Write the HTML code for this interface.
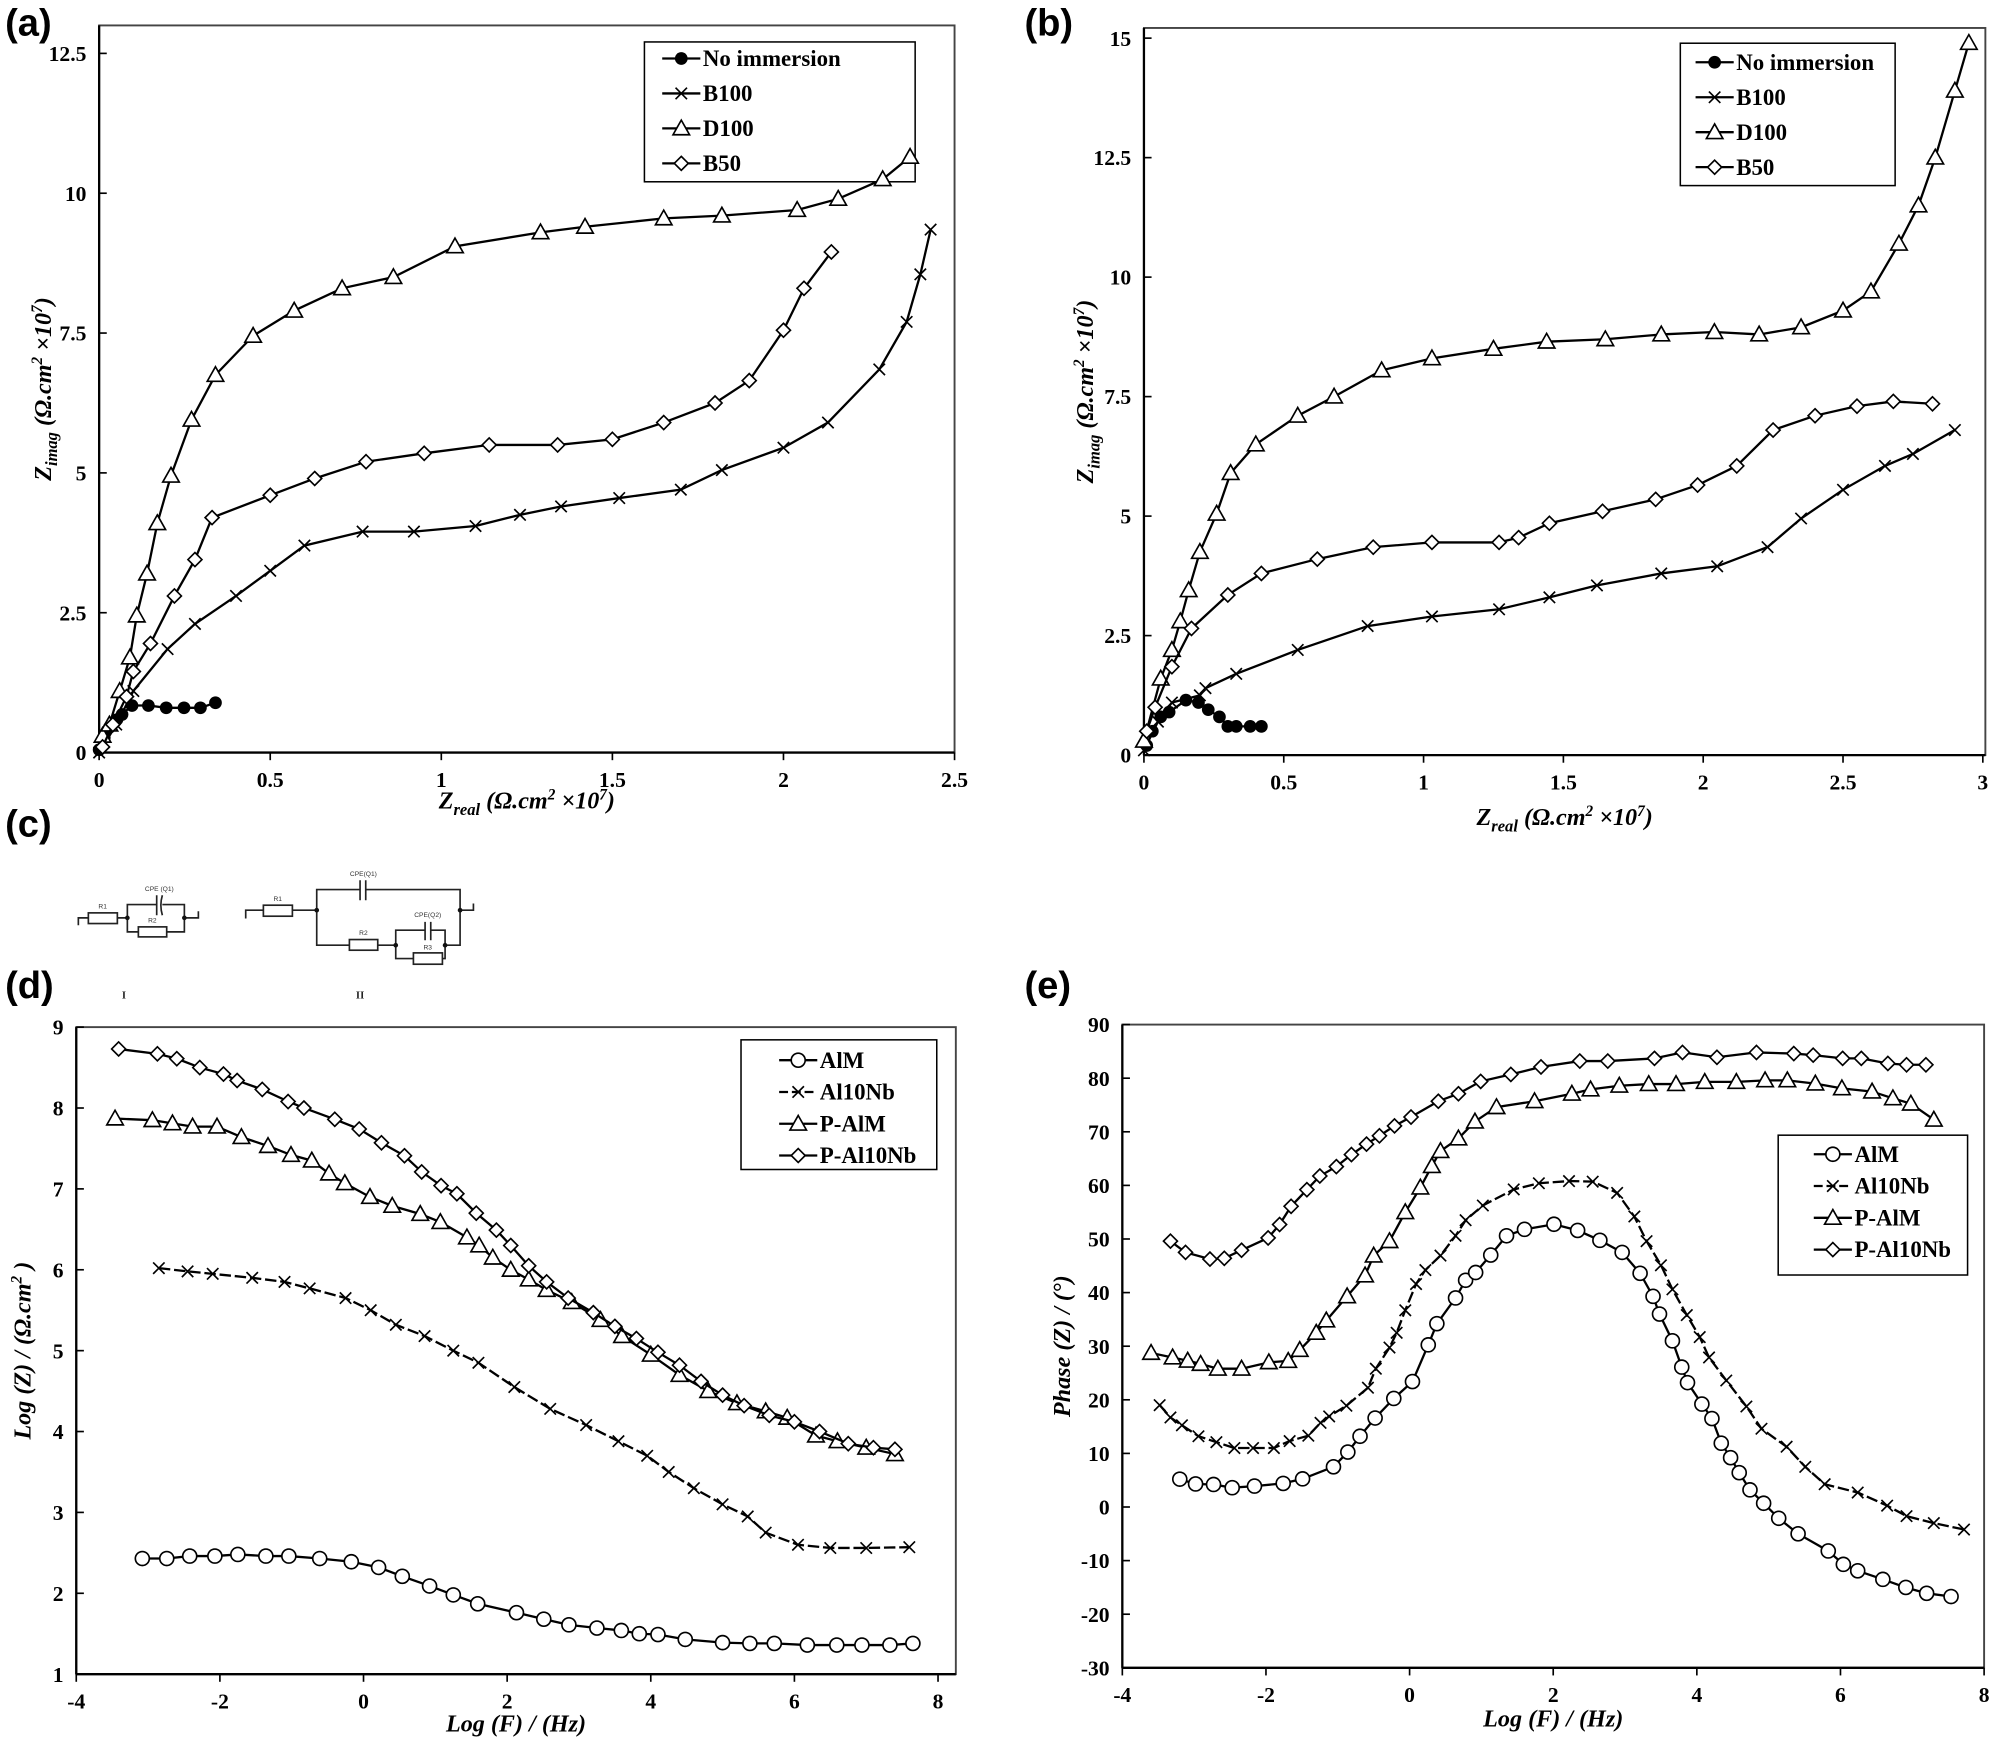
<!DOCTYPE html>
<html><head><meta charset="utf-8"><style>
html,body{margin:0;padding:0;background:#fff}
svg{display:block}
.tk{font-family:"Liberation Serif",serif;font-weight:bold;font-size:17px}
.ttl{font-family:"Liberation Serif",serif;font-weight:bold;font-style:italic;font-size:19px}
.pl{font-family:"Liberation Sans",sans-serif;font-weight:bold;font-size:30px}
.lg{font-family:"Liberation Serif",serif;font-weight:bold;font-size:18px}
.ck{font-family:"Liberation Sans",sans-serif;font-size:20px;fill:#333}
</style></head><body>
<svg id="fig" width="1993" height="1739" viewBox="0 0 1568 1368" preserveAspectRatio="none" xmlns="http://www.w3.org/2000/svg">
<text class="pl" x="4" y="28">(a)</text>
<text class="pl" x="806" y="28">(b)</text>
<text class="pl" x="4" y="658">(c)</text>
<text class="pl" x="4" y="785">(d)</text>
<text class="pl" x="806" y="785">(e)</text>
<g id="circ" transform="translate(0,645.2) scale(0.2623)" fill="none" stroke="#222" stroke-width="5">
<path d="M235,315 V293 H265 M352,293 H382 M382,293 V253 H472 M487,253 H553 V293 M382,293 V335 H415 M500,335 H553 V293 M553,293 H595 V273"/>
<rect x="265" y="278" width="87" height="32"/><rect x="415" y="320" width="85" height="30"/>
<path d="M470,225 V285 M487,225 Q478,255 487,285"/>
<path d="M737,295 V270 H790 M877,270 H950 M950,270 V208 H1080 M1097,208 H1380 V270 M1380,270 H1420 V250 M950,270 V375 H1048 M1133,375 H1187 M1187,375 V330 H1275 M1292,330 H1335 V375 M1187,375 V415 H1240 M1327,415 H1335 V375 M1335,375 H1380 V270"/>
<rect x="790" y="255" width="87" height="33"/><rect x="1048" y="358" width="85" height="32"/><rect x="1240" y="398" width="87" height="34"/>
<path d="M1080,180 V240 M1097,180 V240 M1275,305 V360 M1292,305 V360"/>
<g fill="#111" stroke="none"><circle cx="382" cy="293" r="7"/><circle cx="553" cy="293" r="7"/><circle cx="950" cy="270" r="7"/><circle cx="1380" cy="270" r="7"/><circle cx="1187" cy="375" r="7"/><circle cx="1335" cy="375" r="7"/></g>
<g stroke="none"><text class="ck" x="308" y="265" text-anchor="middle">R1</text><text class="ck" x="478" y="213" text-anchor="middle">CPE (Q1)</text><text class="ck" x="457" y="307" text-anchor="middle">R2</text>
<text class="ck" x="833" y="242" text-anchor="middle">R1</text><text class="ck" x="1090" y="168" text-anchor="middle">CPE(Q1)</text><text class="ck" x="1090" y="345" text-anchor="middle">R2</text><text class="ck" x="1283" y="290" text-anchor="middle">CPE(Q2)</text><text class="ck" x="1283" y="388" text-anchor="middle">R3</text>
<text x="372" y="535" font-family="Liberation Serif" font-weight="bold" font-size="32" fill="#222" text-anchor="middle">I</text><text x="1080" y="535" font-family="Liberation Serif" font-weight="bold" font-size="32" fill="#222" text-anchor="middle">II</text></g>
</g>
</svg>
<script>
// ---- Panel (a) data ----
const aNoX=[0,0.015,0.03,0.052,0.067,0.096,0.144,0.196,0.248,0.296,0.34];
const aNoY=[0.05,0.27,0.45,0.59,0.68,0.84,0.84,0.8,0.8,0.8,0.89];
const aB100X=[0,0.05,0.1,0.2,0.28,0.4,0.5,0.6,0.77,0.92,1.1,1.23,1.35,1.52,1.7,1.82,2.0,2.13,2.28,2.36,2.4,2.43];
const aB100Y=[0,0.5,1.1,1.85,2.3,2.8,3.25,3.7,3.95,3.95,4.05,4.25,4.4,4.55,4.7,5.05,5.45,5.9,6.85,7.7,8.55,9.35];
const aD100X=[0.01,0.03,0.06,0.09,0.11,0.14,0.17,0.21,0.27,0.34,0.45,0.57,0.71,0.86,1.04,1.29,1.42,1.65,1.82,2.04,2.16,2.29,2.37];
const aD100Y=[0.3,0.5,1.1,1.7,2.45,3.2,4.1,4.95,5.95,6.75,7.45,7.9,8.3,8.5,9.05,9.3,9.4,9.55,9.6,9.7,9.9,10.25,10.65];
const aB50X=[0.01,0.04,0.08,0.1,0.15,0.22,0.28,0.33,0.5,0.63,0.78,0.95,1.14,1.34,1.5,1.65,1.8,1.9,2.0,2.06,2.14];
const aB50Y=[0.1,0.5,1.0,1.45,1.95,2.8,3.45,4.2,4.6,4.9,5.2,5.35,5.5,5.5,5.6,5.9,6.25,6.65,7.55,8.3,8.95];
const aXTicks=[0,0.5,1,1.5,2,2.5];
const aYTicks=[0,2.5,5,7.5,10,12.5];
// ---- Panel (b) data ----
const bNoX=[0.01,0.03,0.06,0.09,0.15,0.195,0.23,0.27,0.3,0.33,0.38,0.42];
const bNoY=[0.2,0.5,0.8,0.9,1.15,1.1,0.95,0.8,0.6,0.6,0.6,0.6];
const bB100X=[0,0.05,0.1,0.2,0.22,0.33,0.55,0.8,1.03,1.27,1.45,1.62,1.85,2.05,2.23,2.35,2.5,2.65,2.75,2.9];
const bB100Y=[0.1,0.7,1.1,1.25,1.4,1.7,2.2,2.7,2.9,3.05,3.3,3.55,3.8,3.95,4.35,4.95,5.55,6.05,6.3,6.8];
const bD100X=[0,0.06,0.1,0.13,0.16,0.2,0.26,0.31,0.4,0.55,0.68,0.85,1.03,1.25,1.44,1.65,1.85,2.04,2.2,2.35,2.5,2.6,2.7,2.77,2.83,2.9,2.95];
const bD100Y=[0.3,1.6,2.2,2.8,3.45,4.25,5.05,5.9,6.5,7.1,7.5,8.05,8.3,8.5,8.65,8.7,8.8,8.85,8.8,8.95,9.3,9.7,10.7,11.5,12.5,13.9,14.9];
const bB50X=[0.01,0.04,0.1,0.17,0.3,0.42,0.62,0.82,1.03,1.27,1.34,1.45,1.64,1.83,1.98,2.12,2.25,2.4,2.55,2.68,2.82];
const bB50Y=[0.5,1.0,1.85,2.65,3.35,3.8,4.1,4.35,4.45,4.45,4.55,4.85,5.1,5.35,5.65,6.05,6.8,7.1,7.3,7.4,7.35];
const bXTicks=[0,0.5,1,1.5,2,2.5,3];
const bYTicks=[0,2.5,5,7.5,10,12.5,15];
// ---- Panel (d) data ----
const dAlMX=[-3.08,-2.74,-2.42,-2.07,-1.75,-1.36,-1.04,-0.61,-0.17,0.21,0.54,0.92,1.25,1.59,2.13,2.51,2.86,3.25,3.59,3.84,4.1,4.48,5.0,5.38,5.72,6.18,6.59,6.94,7.33,7.65];
const dAlMY=[2.43,2.43,2.46,2.46,2.48,2.46,2.46,2.43,2.39,2.32,2.21,2.09,1.98,1.87,1.76,1.68,1.61,1.57,1.54,1.5,1.49,1.43,1.39,1.38,1.38,1.36,1.36,1.36,1.36,1.38];
const dNbX=[-2.85,-2.45,-2.1,-1.55,-1.1,-0.75,-0.25,0.1,0.45,0.85,1.25,1.6,2.1,2.6,3.1,3.55,3.95,4.25,4.6,5.0,5.35,5.6,6.05,6.5,7.0,7.6];
const dNbY=[6.02,5.98,5.95,5.9,5.85,5.77,5.65,5.5,5.32,5.18,5.0,4.85,4.55,4.28,4.08,3.88,3.7,3.5,3.3,3.1,2.95,2.75,2.6,2.56,2.56,2.57];
const dPAlMX=[-3.46,-2.94,-2.66,-2.38,-2.04,-1.7,-1.33,-1.01,-0.72,-0.48,-0.26,0.09,0.4,0.79,1.07,1.44,1.61,1.8,2.05,2.3,2.55,2.9,3.3,3.6,4.0,4.4,4.8,5.2,5.6,5.9,6.3,6.6,7.0,7.4];
const dPAlMY=[7.87,7.85,7.81,7.77,7.77,7.64,7.53,7.42,7.35,7.19,7.07,6.9,6.79,6.69,6.59,6.4,6.3,6.15,6.0,5.88,5.75,5.6,5.38,5.18,4.95,4.7,4.5,4.35,4.25,4.17,3.95,3.88,3.8,3.72];
const dPNbX=[-3.41,-2.87,-2.6,-2.28,-1.95,-1.76,-1.41,-1.05,-0.83,-0.4,-0.06,0.25,0.57,0.81,1.08,1.3,1.57,1.85,2.05,2.3,2.55,2.85,3.2,3.5,3.8,4.1,4.4,4.7,5.0,5.3,5.65,6.0,6.35,6.75,7.1,7.4];
const dPNbY=[8.73,8.67,8.61,8.5,8.42,8.34,8.23,8.08,8.0,7.86,7.74,7.57,7.41,7.21,7.04,6.94,6.7,6.49,6.3,6.05,5.85,5.65,5.47,5.3,5.15,4.98,4.82,4.62,4.45,4.32,4.2,4.12,4.0,3.85,3.8,3.78];
const dXTicks=[-4,-2,0,2,4,6,8];
const dYTicks=[1,2,3,4,5,6,7,8,9];
// ---- Panel (e) data ----
const eAlMX=[-3.2,-2.98,-2.73,-2.47,-2.16,-1.76,-1.49,-1.06,-0.86,-0.69,-0.48,-0.22,0.04,0.26,0.38,0.64,0.78,0.92,1.13,1.35,1.6,2.01,2.34,2.65,2.96,3.21,3.39,3.48,3.66,3.79,3.87,4.07,4.21,4.34,4.47,4.59,4.74,4.93,5.14,5.41,5.83,6.04,6.24,6.59,6.91,7.2,7.54];
const eAlMY=[5.2,4.3,4.2,3.6,3.9,4.4,5.25,7.5,10.25,13.2,16.6,20.25,23.4,30.25,34.2,39,42.3,43.75,47,50.6,51.8,52.75,51.6,49.75,47.5,43.6,39.3,36,31,26.1,23.2,19.2,16.5,11.9,9.2,6.4,3.2,0.7,-2.1,-5,-8.2,-10.7,-11.9,-13.5,-15,-16.1,-16.7];
const eNbX=[-3.48,-3.33,-3.17,-2.94,-2.69,-2.44,-2.18,-1.89,-1.67,-1.41,-1.24,-1.12,-0.88,-0.58,-0.47,-0.28,-0.18,-0.06,0.09,0.22,0.43,0.64,0.78,1.02,1.45,1.8,2.22,2.55,2.89,3.13,3.3,3.5,3.66,3.86,4.04,4.17,4.41,4.69,4.9,5.25,5.51,5.78,6.24,6.65,6.92,7.3,7.72];
const eNbY=[19,16.7,15.25,13.2,12.1,11,11,11,12.3,13.3,15.7,16.9,18.9,22.25,25.8,29.75,32.5,36.7,41.6,44.2,46.9,50.6,53.5,56.25,59.25,60.4,60.8,60.7,58.6,54.2,49.6,45.1,40.6,35.8,31.7,27.9,23.6,18.75,14.6,11.25,7.5,4.25,2.7,0.25,-1.7,-3,-4.2];
const ePAlMX=[-3.6,-3.3,-3.09,-2.91,-2.67,-2.34,-1.96,-1.69,-1.53,-1.3,-1.16,-0.87,-0.62,-0.5,-0.28,-0.06,0.15,0.31,0.43,0.68,0.91,1.21,1.74,2.26,2.52,2.92,3.33,3.71,4.11,4.55,4.95,5.26,5.65,6.02,6.44,6.73,6.98,7.3];
const ePAlMY=[28.75,27.9,27.3,26.7,25.8,25.8,27,27.25,29.3,32.5,34.8,39.3,43.2,46.9,49.6,55,59.6,63.6,66.4,68.75,71.9,74.6,75.7,77.1,77.9,78.6,78.9,78.9,79.3,79.3,79.6,79.6,79,78.1,77.5,76.25,75.25,72.25];
const ePNbX=[-3.33,-3.12,-2.78,-2.58,-2.34,-1.97,-1.81,-1.65,-1.43,-1.25,-1.02,-0.81,-0.6,-0.42,-0.21,0.02,0.4,0.68,0.99,1.41,1.83,2.37,2.76,3.41,3.8,4.28,4.83,5.35,5.62,6.03,6.29,6.66,6.92,7.19];
const ePNbY=[49.6,47.5,46.25,46.4,47.9,50.2,52.7,56.1,59.2,61.75,63.5,65.75,67.7,69.25,71.1,72.75,75.7,77.1,79.4,80.7,82.1,83.2,83.2,83.7,84.8,83.9,84.8,84.6,84.3,83.7,83.7,82.75,82.5,82.5];
const eXTicks=[-4,-2,0,2,4,6,8];
const eYTicks=[-30,-20,-10,0,10,20,30,40,50,60,70,80,90];

const NS='http://www.w3.org/2000/svg';
const svg=document.getElementById('fig');
function mk(tag,attrs,parent){const e=document.createElementNS(NS,tag);for(const k in attrs)e.setAttribute(k,attrs[k]);(parent||svg).appendChild(e);return e;}
function marker(g,type,cx,cy){
  let m;
  if(type==='dot'){m=mk('circle',{cx:cx,cy:cy,r:5,fill:'#000'},g);}
  else if(type==='circle'){m=mk('circle',{cx:cx,cy:cy,r:5.5,fill:'#fff',stroke:'#000','stroke-width':1.3},g);}
  else if(type==='tri'){m=mk('path',{d:`M${cx},${cy-6.5} L${cx+6.5},${cy+5} L${cx-6.5},${cy+5} Z`,fill:'#fff',stroke:'#000','stroke-width':1.3},g);}
  else if(type==='dia'){m=mk('path',{d:`M${cx},${cy-5.5} L${cx+5.5},${cy} L${cx},${cy+5.5} L${cx-5.5},${cy} Z`,fill:'#fff',stroke:'#000','stroke-width':1.3},g);}
  else {m=mk('path',{d:`M${cx-4.5},${cy-4.5} L${cx+4.5},${cy+4.5} M${cx+4.5},${cy-4.5} L${cx-4.5},${cy+4.5}`,stroke:'#000','stroke-width':1.3},g);}
  
  
}
function panel(p){
  const sx=v=>p.x0+(v-p.xmin)/(p.xmax-p.xmin)*(p.x1-p.x0);
  const sy=v=>p.y0-(v-p.ymin)/(p.ymax-p.ymin)*(p.y0-p.y1);
  const g=mk('g',{});
  
  
  const box=mk('rect',{x:p.x0,y:p.top,width:p.right-p.x0,height:p.y0-p.top,fill:'none',stroke:'#444','stroke-width':1.5},g);
  
  
  mk('line',{x1:p.x0,y1:p.top,x2:p.x0,y2:p.y0,stroke:'#000','stroke-width':1.8},g);
  mk('line',{x1:p.x0,y1:p.y0,x2:p.right,y2:p.y0,stroke:'#000','stroke-width':1.8},g);
  p.xt.forEach(v=>{
    mk('line',{x1:sx(v),y1:p.y0,x2:sx(v),y2:p.y0+6,stroke:'#000','stroke-width':1.3},g);
    const t=mk('text',{x:sx(v),y:p.y0+27,'text-anchor':'middle',class:'tk'},g);t.textContent=String(v);
    
    
  });
  p.yt.forEach(v=>{
    mk('line',{x1:p.x0,y1:sy(v),x2:p.x0+6,y2:sy(v),stroke:'#000','stroke-width':1.3},g);
    const t=mk('text',{x:p.x0-10,y:sy(v)+6,'text-anchor':'end',class:'tk'},g);t.textContent=String(v);
    
    
  });
  const L=p.leg;
  const lg=mk('g',{},g);
  
  
  mk('rect',{x:L.x,y:L.y,width:L.w,height:L.h,fill:'#fff',stroke:'#000','stroke-width':1.2},lg);
  p.series.forEach((s,i)=>{
    const yy=L.y+L.first+i*L.step;
    const e=mk('g',{},lg);
    
    
    const ll=mk('line',{x1:L.x+L.lx,y1:yy,x2:L.x+L.lx+30,y2:yy,stroke:'#000','stroke-width':1.8},e);
    if(s.dash)ll.setAttribute('stroke-dasharray','7,3');
    marker(e,s.m,L.x+L.lx+15,yy);
    const t=mk('text',{x:L.x+L.lx+32,y:yy+6,class:'lg'},e);t.textContent=s.name;
  });
  p.series.forEach(s=>{
    const sg=mk('g',{},g);
    
    
    const d=s.x.map((v,i)=>(i?'L':'M')+sx(v).toFixed(1)+','+sy(s.y[i]).toFixed(1)).join(' ');
    const ln=mk('path',{d:d,fill:'none',stroke:'#000','stroke-width':1.8},sg);
    if(s.dash)ln.setAttribute('stroke-dasharray','9,3');
    
    
    s.x.forEach((v,i)=>marker(sg,s.m,sx(v),sy(s.y[i])));
  });
  const xt=mk('text',{x:(p.x0+p.right)/2,y:p.y0+p.xtOff,'text-anchor':'middle',class:'ttl'},g);
  xt.innerHTML=p.xtitle;
  
  
  const cy=(p.top+p.y0)/2;
  const yt=mk('text',{x:0,y:0,transform:`translate(${p.ytx},${cy}) rotate(-90)`,'text-anchor':'middle',class:'ttl'},g);
  yt.innerHTML=p.ytitle;
  
  
}
const zT=(sub)=>`Z<tspan font-size="13" dy="5">${sub}</tspan><tspan dy="-5"> (Ω.cm</tspan><tspan font-size="12" dy="-7">2</tspan><tspan dy="7"> ×10</tspan><tspan font-size="12" dy="-7">7</tspan><tspan dy="7">)</tspan>`;
panel({id:'panel-a',x0:78,x1:751,right:751,xmin:0,xmax:2.5,y0:592,y1:42,top:20,ymin:0,ymax:12.5,xt:aXTicks,yt:aYTicks,
 series:[{name:'No immersion',x:aNoX,y:aNoY,m:'dot'},{name:'B100',x:aB100X,y:aB100Y,m:'x'},{name:'D100',x:aD100X,y:aD100Y,m:'tri'},{name:'B50',x:aB50X,y:aB50Y,m:'dia'}],
 leg:{x:507,y:33,w:213,h:110,first:13,step:27.5,lx:14},xtitle:zT('real'),ytitle:zT('imag'),xtOff:44,ytx:40});
panel({id:'panel-b',x0:900,x1:1560,right:1562,xmin:0,xmax:3,y0:594,y1:30,top:22,ymin:0,ymax:15,xt:bXTicks,yt:bYTicks,
 series:[{name:'No immersion',x:bNoX,y:bNoY,m:'dot'},{name:'B100',x:bB100X,y:bB100Y,m:'x'},{name:'D100',x:bD100X,y:bD100Y,m:'tri'},{name:'B50',x:bB50X,y:bB50Y,m:'dia'}],
 leg:{x:1322,y:34,w:169,h:112,first:15,step:27.5,lx:12},xtitle:zT('real'),ytitle:zT('imag'),xtOff:55,ytx:860});
panel({id:'panel-d',x0:60,x1:738,right:752,xmin:-4,xmax:8,y0:1317,y1:808,top:808,ymin:1,ymax:9,xt:dXTicks,yt:dYTicks,
 series:[{name:'AlM',x:dAlMX,y:dAlMY,m:'circle'},{name:'Al10Nb',x:dNbX,y:dNbY,m:'x',dash:true},{name:'P-AlM',x:dPAlMX,y:dPAlMY,m:'tri'},{name:'P-Al10Nb',x:dPNbX,y:dPNbY,m:'dia'}],
 leg:{x:583,y:818,w:154,h:102,first:16,step:25,lx:30},xtitle:'Log (F) / (Hz)',ytitle:'Log (Z) / (Ω.cm<tspan font-size="12" dy="-7">2</tspan><tspan dy="7"> )</tspan>',xtOff:45,ytx:24});
panel({id:'panel-e',x0:883,x1:1561,right:1561,xmin:-4,xmax:8,y0:1312,y1:806,top:806,ymin:-30,ymax:90,xt:eXTicks,yt:eYTicks,
 series:[{name:'AlM',x:eAlMX,y:eAlMY,m:'circle'},{name:'Al10Nb',x:eNbX,y:eNbY,m:'x',dash:true},{name:'P-AlM',x:ePAlMX,y:ePAlMY,m:'tri'},{name:'P-Al10Nb',x:ePNbX,y:ePNbY,m:'dia'}],
 leg:{x:1399,y:893,w:149,h:110,first:15,step:25,lx:28},xtitle:'Log (F) / (Hz)',ytitle:'Phase (Z) / (°)',xtOff:46,ytx:842});
</script>
</body></html>
